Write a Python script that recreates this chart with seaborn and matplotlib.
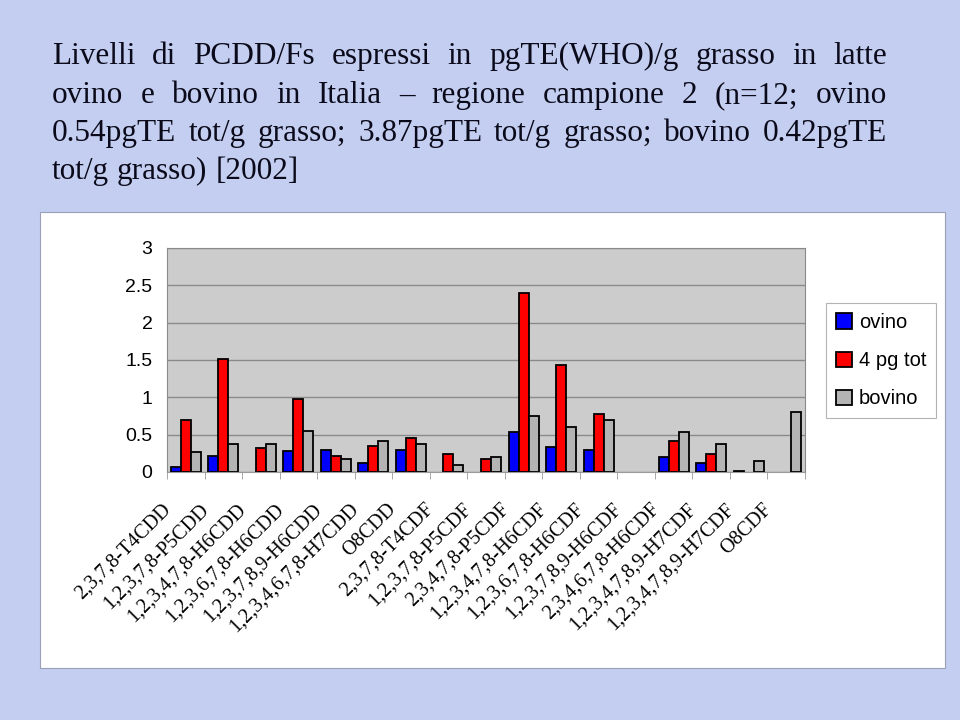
import matplotlib
matplotlib.use("Agg")
import matplotlib.pyplot as plt
import matplotlib.patches as mpatches
from matplotlib.transforms import ScaledTranslation
import seaborn as sns
import pandas as pd
import numpy as np

# congeners as written on the x axis
congeners = [
    "2,3,7,8-T4CDD", "1,2,3,7,8-P5CDD", "1,2,3,4,7,8-H6CDD", "1,2,3,6,7,8-H6CDD",
    "1,2,3,7,8,9-H6CDD", "1,2,3,4,6,7,8-H7CDD", "O8CDD", "2,3,7,8-T4CDF",
    "1,2,3,7,8-P5CDF", "2,3,4,7,8-P5CDF", "1,2,3,4,7,8-H6CDF", "1,2,3,6,7,8-H6CDF",
    "1,2,3,7,8,9-H6CDF", "2,3,4,6,7,8-H6CDF", "1,2,3,4,7,8,9-H7CDF",
    "1,2,3,4,7,8,9-H7CDF ", "O8CDF",
]
nan = np.nan
ovino = [0.07, 0.22, nan, 0.28, 0.30, 0.12, 0.30, nan, nan, 0.53, 0.33, 0.30, nan, 0.20, 0.12, 0.02, nan]
tot4 = [0.70, 1.51, 0.32, 0.98, 0.22, 0.35, 0.45, 0.245, 0.17, 2.40, 1.43, 0.78, nan, 0.42, 0.245, nan, nan]
bovino = [0.27, 0.375, 0.375, 0.55, 0.17, 0.42, 0.375, 0.09, 0.20, 0.75, 0.60, 0.70, nan, 0.53, 0.375, 0.15, 0.80]
series = ["ovino", "4 pg tot", "bovino"]
colors = ["#0000ff", "#ff0000", "#b4b4b4"]

title_lines = [
    "Livelli di PCDD/Fs espressi in pgTE(WHO)/g grasso in latte",
    "ovino e bovino in Italia \u2013 regione campione 2 (n=12; ovino",
    "0.54pgTE tot/g grasso; 3.87pgTE tot/g grasso; bovino 0.42pgTE",
    "tot/g grasso) [2002]",
]

df = pd.DataFrame({
    "congener": congeners * 3,
    "serie": [s for s in series for _ in congeners],
    "val": ovino + tot4 + bovino,
})

W, H = 960, 720
fig = plt.figure(figsize=(9.6, 7.2), dpi=100)
fig.patch.set_facecolor("#c4cef0")

# white panel behind the chart
fig.patches.append(mpatches.Rectangle((40 / W, 1 - 668 / H), 905 / W, 456 / H,
                                      transform=fig.transFigure, facecolor="white",
                                      edgecolor="#9aa0b8", linewidth=0.8, zorder=-5))

ax = fig.add_axes([167 / W, 1 - 472 / H, 638 / W, 224 / H])
sns.barplot(data=df, x="congener", y="val", hue="serie", order=congeners,
            hue_order=series, palette=colors, saturation=1, edgecolor="black",
            linewidth=1.3, errorbar=None, ax=ax, zorder=3)
ax.set_facecolor("#cccccc")
ax.set_ylim(0, 3)
ax.set_xlim(-0.5, len(congeners) - 0.5)
ax.set_yticks(np.arange(0, 3.01, 0.5))
ax.set_yticklabels(["0", "0.5", "1", "1.5", "2", "2.5", "3"],
                   fontsize=14, family="Liberation Sans")
ax.yaxis.grid(True, color="#8a8a8a", linewidth=1, zorder=0)
ax.set_axisbelow(True)
ax.tick_params(axis="y", length=0, pad=10.5)
for side in ["top", "right", "left"]:
    ax.spines[side].set_color("#8a8a8a")
ax.spines["bottom"].set_color("#9a9a9a")
ax.set_xlabel("")
ax.set_ylabel("")
ax.set_xticks(np.arange(-0.5, len(congeners), 1), minor=True)
ax.tick_params(axis="x", which="minor", length=5, color="#9a9a9a")
ax.tick_params(axis="x", which="major", length=0)
ax.set_xticks(range(len(congeners)))
ax.set_xticklabels([c.strip() for c in congeners], rotation=45, ha="right",
                   rotation_mode="anchor", family="Liberation Serif", fontsize=14.5)
for lab in ax.get_xticklabels():
    lab.set_transform(lab.get_transform() + ScaledTranslation(-0.24, -0.23, fig.dpi_scale_trans))

handles, labels = ax.get_legend_handles_labels()
ax.get_legend().remove()
leg = fig.legend(handles, labels, loc="upper left", bbox_to_anchor=(826 / W, 1 - 303 / H),
                 frameon=True, fancybox=False, edgecolor="#a0a0a0", facecolor="white",
                 prop={"family": "Liberation Sans", "size": 14.5},
                 handlelength=0.78, handleheight=0.78, handletextpad=0.35,
                 labelspacing=0.95, borderpad=0.5, borderaxespad=0)
leg.get_frame().set_linewidth(0.8)

# justified title
baselines = [64, 103, 141, 179]
left, right = 52, 887
fig.canvas.draw()
renderer = fig.canvas.get_renderer()
for i, line in enumerate(title_lines):
    words = line.split(" ")
    ypos = 1 - baselines[i] / H
    texts = [fig.text(0, ypos, w, fontsize=22.5, family="Liberation Serif",
                      color="#0a0a1a", va="baseline", ha="left") for w in words]
    widths = [t.get_window_extent(renderer).width for t in texts]
    if i < len(title_lines) - 1:
        gap = (right - left - sum(widths)) / (len(words) - 1)
    else:
        gap = 22.5 * 100 / 72 * 0.25
    x = left
    for t, w in zip(texts, widths):
        t.set_x(x / W)
        x += w + gap

fig.savefig("out.png", dpi=100, facecolor=fig.get_facecolor())
